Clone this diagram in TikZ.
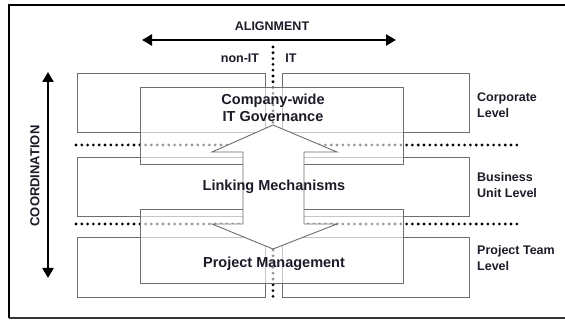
\documentclass[tikz,border=0pt]{standalone}
\usepackage{fontspec}
\setmainfont{Liberation Sans}
\usetikzlibrary{arrows.meta}
\definecolor{boxline}{HTML}{6E6E6E}
\definecolor{ink}{HTML}{1C1C28}
\tikzset{
  levelbox/.style={draw=boxline, line width=0.9pt, fill=white},
  innerbox/.style={draw=boxline, line width=0.9pt, fill=white, fill opacity=0.6},
  blockarrow/.style={draw=boxline, line width=0.9pt, fill=white},
  dotline/.style={line width=3.1pt, line cap=round, dash pattern=on 0pt off 5.8pt, black},
  bigarrow/.style={line width=2.8pt, {Triangle[length=10pt,width=11pt]}-{Triangle[length=10pt,width=11pt]}},
  mainlabel/.style={font=\bfseries\fontsize{14.5}{17}\selectfont, text=ink, align=center, inner sep=0pt},
  sidelabel/.style={font=\bfseries\fontsize{12.5}{15.5}\selectfont, text=ink, align=left, inner sep=0pt, anchor=west},
  axislabel/.style={font=\bfseries\fontsize{12.5}{15}\selectfont, text=ink, inner sep=0pt},
}
\begin{document}
\begin{tikzpicture}[x=1pt, y=-1pt]
\useasboundingbox (0,0) rectangle (565,320);
% frame
\draw[line width=2.4pt] (9,5) -- (566,5);
\draw[line width=1.5pt] (9,4) -- (9,318);
\draw[line width=1.2pt, black!80] (9,318) -- (566,318);

% level bands, split into non-IT and IT halves
\foreach \ya/\yb/\n in {73/132/corp, 157/216/bu, 237/297/pt}{
  \node[levelbox, minimum width=188pt, minimum height={\yb-\ya}, inner sep=0pt, anchor=north west] (\n L) at (77,\ya) {};
  \node[levelbox, minimum width=187pt, minimum height={\yb-\ya}, inner sep=0pt, anchor=north west] (\n R) at (282,\ya) {};
}

% dotted separators
\coordinate (h1a) at (76,145); \coordinate (h1b) at (519,145);
\coordinate (h2a) at (76,224); \coordinate (h2b) at (519,224);
\coordinate (v1a) at (273,47); \coordinate (v1b) at (273,300);
\draw[dotline] (h1a) -- (h1b);
\draw[dotline] (h2a) -- (h2b);
\draw[dotline] (v1a) -- (v1b);

% translucent inner boxes
\node[innerbox, minimum width=263pt, minimum height=77pt, inner sep=0pt, anchor=north west] (gov) at (140,87) {};
\node[innerbox, minimum width=263pt, minimum height=74pt, inner sep=0pt, anchor=north west] (pm) at (140,209) {};

% double-headed block arrow linking the two boxes
\draw[blockarrow] (273,125) -- (337,152) -- (304,152) -- (304,224) -- (337,224)
  -- (273,249) -- (212,224) -- (243,224) -- (243,152) -- (212,152) -- cycle;

% labels
\node[mainlabel] (govtext) at (273,108) {Company-wide\\IT Governance};
\node[mainlabel] (link) at (274,187) {Linking Mechanisms};
\node[mainlabel] (pmtext) at (274,264) {Project Management};

\node[sidelabel] (corp) at (477,105) {Corporate\\Level};
\node[sidelabel] (bu) at (477,185) {Business\\Unit Level};
\node[sidelabel] (pt) at (477,258) {Project Team\\Level};

% alignment axis
\coordinate (alL) at (142,40); \coordinate (alR) at (396,40);
\draw[bigarrow] (alL) -- (alR);
\node[axislabel] (align) at (272,26) {ALIGNMENT};
\node[axislabel] (nonit) at (240,58) {non-IT};
\node[axislabel] (it) at (291,58) {IT};

% coordination axis
\coordinate (coT) at (48,72); \coordinate (coB) at (48,278);
\draw[bigarrow] (coT) -- (coB);
\node[axislabel, font=\bfseries\fontsize{13}{15}\selectfont, rotate=90] (coord) at (35,176) {COORDINATION};
\end{tikzpicture}
\end{document}
